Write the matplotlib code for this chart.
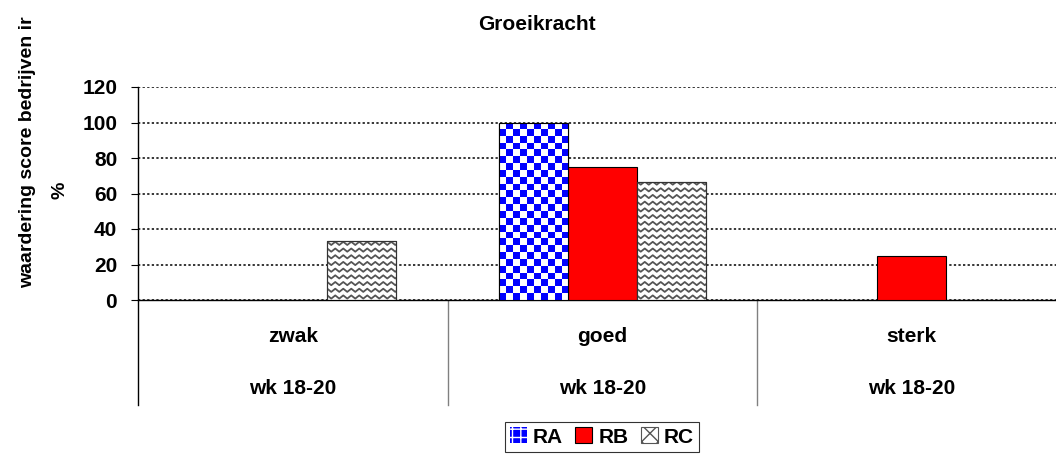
import numpy as np
import matplotlib
matplotlib.use('Agg')
import matplotlib.pyplot as plt
from matplotlib.patches import Patch

plt.rcParams['font.family'] = ['Liberation Sans', 'DejaVu Sans']
plt.rcParams['font.weight'] = 'bold'

# data
categories = ['zwak', 'goed', 'sterk']
week_label = 'wk 18-20'
series = ['RA', 'RB', 'RC']
ra = [0, 100, 0]
rb = [0, 75, 25]
rc = [33.3, 66.7, 0]
yticks = [0, 20, 40, 60, 80, 100, 120]

FS = 15

fig = plt.figure(figsize=(10.56, 4.54), dpi=100)
W, H = 1056, 454
ax = fig.add_axes([138 / W, (H - 300) / H, 918 / W, 213 / H])

x = np.arange(len(categories))
w = 0.223
xmin, xmax = -0.5, -0.5 + 918 / 309.5
ax.set_xlim(xmin, xmax)
ax.set_ylim(0, 120)

ppx = ax.bbox.width / (xmax - xmin)   # pixels per x unit
ppy = ax.bbox.height / 120.0          # pixels per y unit

# RA: blue checkerboard
bars_a = ax.bar(x - w, ra, w, color='white', edgecolor='black', linewidth=0.8, zorder=3)
sq = 6.7
for b in bars_a:
    h = b.get_height()
    if h <= 0:
        continue
    nx = max(1, int(round(b.get_width() * ppx / sq)))
    ny = max(1, int(round(h * ppy / sq)))
    chk = (np.add.outer(np.arange(ny), np.arange(nx)) % 2).astype(float)
    img = np.ones((ny, nx, 3))
    img[chk == 1] = [0, 0, 1]
    im = ax.imshow(img, extent=[b.get_x(), b.get_x() + b.get_width(), 0, h],
                   aspect='auto', interpolation='nearest', zorder=3.5)
    im.set_clip_path(b)
    ax.add_patch(plt.Rectangle((b.get_x(), 0), b.get_width(), h, fill=False,
                               edgecolor='black', linewidth=0.8, zorder=4))

# RB: red solid
ax.bar(x, rb, w, color='#ff0000', edgecolor='black', linewidth=0.8, zorder=3)

# RC: grey zigzag pattern
bars_c = ax.bar(x + w, rc, w, color='white', edgecolor='#333333', linewidth=0.8, zorder=3)
for b in bars_c:
    h = b.get_height()
    if h <= 0:
        continue
    x0, x1 = b.get_x(), b.get_x() + b.get_width()
    xs = np.arange(x0 - 8 / ppx, x1 + 8 / ppx, 4 / ppx)
    amp = 1.6 / ppy
    zz = np.where(np.arange(len(xs)) % 2 == 0, amp, -amp)
    for y0 in np.arange(3 / ppy, h + 6 / ppy, 6.7 / ppy):
        ln, = ax.plot(xs, y0 + zz, color='#555555', linewidth=1.3, zorder=3.5)
        ln.set_clip_path(b)
    ax.add_patch(plt.Rectangle((x0, 0), b.get_width(), h, fill=False,
                               edgecolor='#333333', linewidth=0.8, zorder=4))

# axes styling
ax.set_yticks(yticks)
ax.set_yticklabels([str(t) for t in yticks], fontsize=FS, fontweight='bold')
ax.tick_params(axis='y', length=5, width=0.8, direction='out', pad=10)
ax.set_xticks([])
ax.yaxis.grid(True, color='black', linestyle=(0, (1.5, 1.5)), linewidth=1.1)
ax.set_axisbelow(True)
for s in ['top', 'right', 'left']:
    ax.spines[s].set_visible(False)
ax.spines['bottom'].set_linewidth(1)

tr = ax.get_xaxis_transform()
depth = -105 / 213
ax.plot([xmin, xmin], [depth, 1], transform=tr, color='black', linewidth=1, clip_on=False)
for i in range(1, len(categories)):
    ax.plot([i - 0.5, i - 0.5], [depth, 0], transform=tr, color='#808080',
            linewidth=1, clip_on=False)
for i, c in enumerate(categories):
    ax.text(i, -37 / 213, c, transform=tr, ha='center', va='center',
            fontsize=FS, fontweight='bold')
    ax.text(i, -88 / 213, week_label, transform=tr, ha='center', va='center',
            fontsize=FS, fontweight='bold')

# title and y label
fig.text(537 / W, 1 - 24 / H, 'Groeikracht', ha='center', va='center',
         fontsize=FS, fontweight='bold')
fig.text(28 / W, 1 - 152 / H, 'waardering score bedrijven ir', rotation=90,
         ha='center', va='center', fontsize=14, fontweight='bold')
fig.text(60 / W, 1 - 190 / H, '%', rotation=90, ha='center', va='center',
         fontsize=14, fontweight='bold')

# legend
handles = [Patch(facecolor='blue', edgecolor='white', hatch='++', linewidth=0),
           Patch(facecolor='#ff0000', edgecolor='black', linewidth=0.8),
           Patch(facecolor='white', edgecolor='#555555', hatch='xx', linewidth=0.8)]
leg = fig.legend(handles, series, loc='center', bbox_to_anchor=(602 / W, 1 - 437 / H),
                 ncol=3, frameon=True, fancybox=False, edgecolor='black',
                 prop={'size': FS, 'weight': 'bold'}, handlelength=0.8,
                 handleheight=0.8, handletextpad=0.3, columnspacing=0.6,
                 borderpad=0.25, borderaxespad=0)
leg.get_frame().set_linewidth(0.8)

fig.savefig('out.png', dpi=100)
